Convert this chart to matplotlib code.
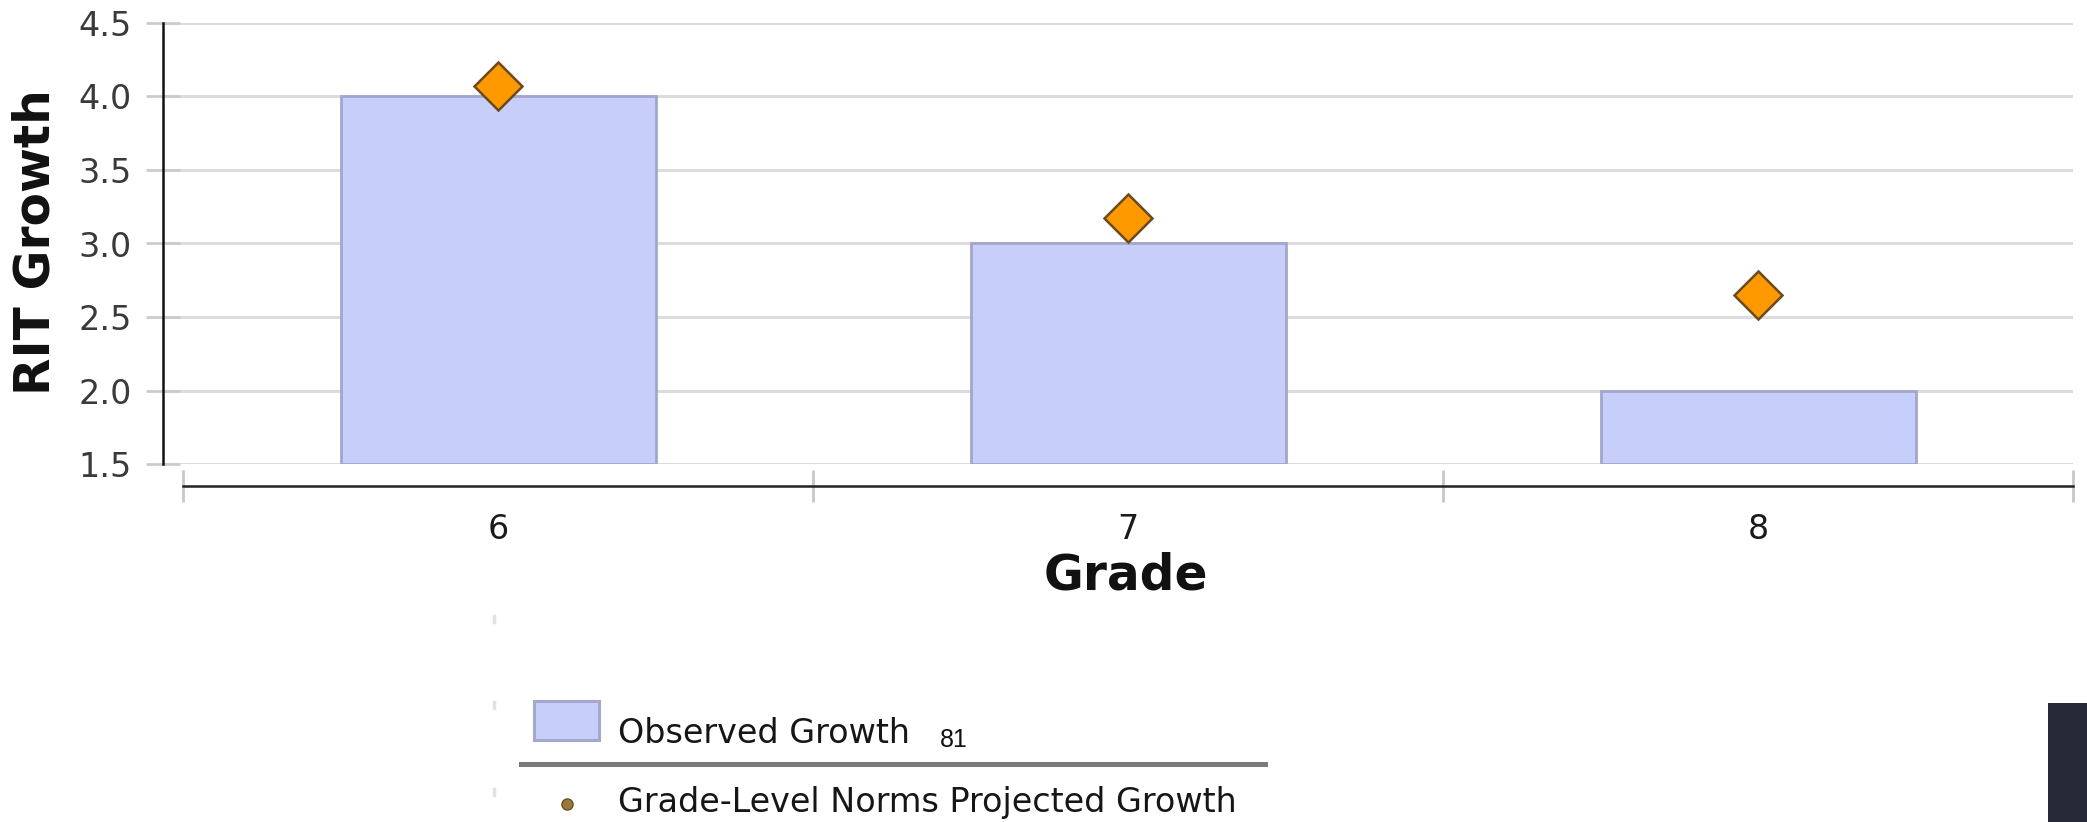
import numpy as np
import matplotlib
matplotlib.use("Agg")
import matplotlib.pyplot as plt
from matplotlib.patches import Rectangle
from matplotlib.lines import Line2D

# ---- data ----
grades = ["6", "7", "8"]
observed_growth = [4.0, 3.0, 2.0]
projected_growth = [4.07, 3.17, 2.65]
y_ticks = [1.5, 2.0, 2.5, 3.0, 3.5, 4.0, 4.5]
y_tick_labels = ["1.5", "2.0", "2.5", "3.0", "3.5", "4.0", "4.5"]
legend_labels = ["Observed Growth", "Grade-Level Norms Projected Growth"]
stray_label = "81"

W, H = 2087, 822
DPI = 100
fig = plt.figure(figsize=(W / DPI, H / DPI), dpi=DPI)
fig.patch.set_facecolor("white")

# main axes in pixel layout
left, right, top, bottom = 163, 2073, 22.7, 464.3
ax = fig.add_axes([left / W, 1 - bottom / H, (right - left) / W, (bottom - top) / H])
ax.set_facecolor("white")

x = np.arange(len(grades))
base = y_ticks[0]
bar_color = "#c8cefa"
bar_edge = "#a2a6cc"
ax.bar(x, np.array(observed_growth) - base, bottom=base, width=0.5,
       color=bar_color, edgecolor=bar_edge, linewidth=2.0, zorder=2)
ax.plot(x, projected_growth, linestyle="none", marker="D", markersize=24,
        markerfacecolor="#ff9900", markeredgecolor="#6b4a1e",
        markeredgewidth=1.8, zorder=3)

ax.set_ylim(y_ticks[0], y_ticks[-1])
ax.set_xlim(-0.532, len(grades) - 0.5)

ax.set_yticks(y_ticks)
ax.set_yticklabels(y_tick_labels, family="DejaVu Sans")
ax.tick_params(axis="y", direction="inout", length=24, width=2, color="#cccccc", pad=10.5,
               labelsize=24, labelcolor="#3a3a3a")
ax.yaxis.grid(True, color="#dcdcdc", linewidth=2.2, zorder=0)
ax.set_axisbelow(True)

# x axis: boundaries as major ticks, labels at category centres
ax.set_xticks(np.arange(len(grades) + 1) - 0.5)
ax.set_xticklabels([""] * (len(grades) + 1))
ax.set_xticks(x, minor=True)
ax.set_xticklabels(grades, minor=True, family="DejaVu Sans")
ax.tick_params(axis="x", which="major", direction="inout", length=23, width=2, color="#c8c8c8")
ax.tick_params(axis="x", which="minor", length=0, pad=19, labelsize=24, labelcolor="#1a1a1a")

for s in ("top", "right"):
    ax.spines[s].set_visible(False)
ax.spines["left"].set_color("#111111")
ax.spines["left"].set_linewidth(1.8)
ax.spines["left"].set_bounds(y_ticks[0], y_ticks[-1])
ax.spines["bottom"].set_position(("outward", 15.8))
ax.spines["bottom"].set_bounds(-0.5, len(grades) - 0.5)
ax.spines["bottom"].set_color("#222222")
ax.spines["bottom"].set_linewidth(1.8)

# axis titles
fig.text(35.5 / W, 1 - 242.5 / H, "RIT Growth", rotation=90, ha="center", va="center",
         fontsize=35, fontweight="bold", color="#111111", family="DejaVu Sans")
fig.text(1126 / W, 1 - 575 / H, "Grade", ha="center", va="center",
         fontsize=35, fontweight="bold", color="#111111", family="DejaVu Sans")

# overlay in pixel coordinates for legend and decorations
ov = fig.add_axes([0, 0, 1, 1], zorder=5)
ov.set_xlim(0, W)
ov.set_ylim(H, 0)
ov.axis("off")
ov.patch.set_alpha(0)

ov.add_patch(Rectangle((534, 701), 65, 39, facecolor=bar_color, edgecolor="#a4a8cc", linewidth=2.2))
ov.text(618, 743, legend_labels[0], ha="left", va="baseline", fontsize=24,
        color="#161616", family="DejaVu Sans")
ov.text(940, 747, stray_label, ha="left", va="baseline", fontsize=18,
        color="#111111", family="Liberation Sans")
ov.add_line(Line2D([521, 1265], [764, 764], color="#7a7a7a", linewidth=3.6))
ov.plot([567], [804], marker="o", markersize=8, markerfacecolor="#9a7a3a",
        markeredgecolor="#6a5020", markeredgewidth=1.0, linestyle="none")
ov.text(618, 812, legend_labels[1], ha="left", va="baseline", fontsize=24,
        color="#161616", family="DejaVu Sans")

for yy in (619, 705, 792):
    ov.add_line(Line2D([494, 494], [yy - 3, yy + 3], color="#e2e2e2", linewidth=2.5))

ov.add_patch(Rectangle((2048, 703), 39, 119, facecolor="#262a38", edgecolor="none"))

fig.savefig("out.png", dpi=DPI, facecolor="white")
